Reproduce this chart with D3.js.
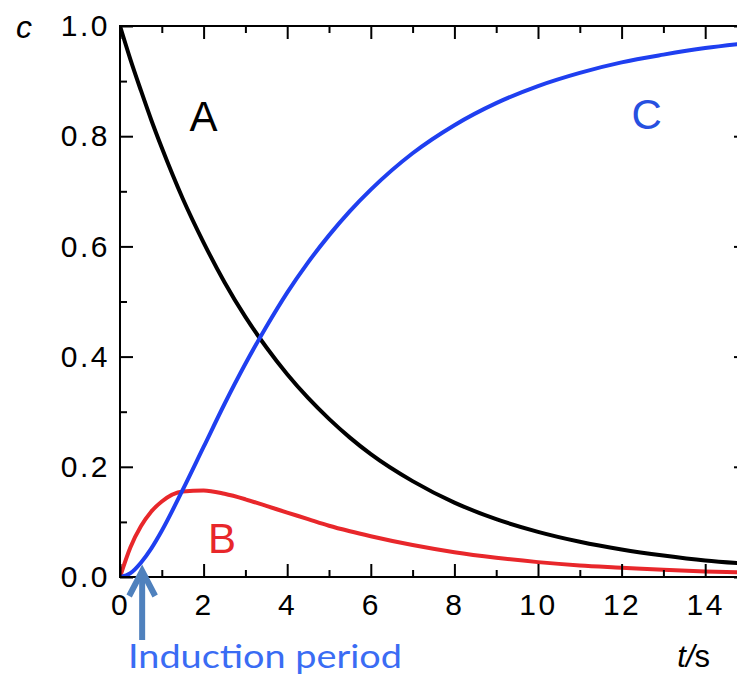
<!DOCTYPE html>
<html><head><meta charset="utf-8">
<script src="https://cdn.jsdelivr.net/npm/d3@7/dist/d3.min.js"></script>
<style>body{margin:0;background:#fff}svg{display:block}</style>
</head><body><svg id="chart" width="737" height="676"></svg>
<script>
// time points (s)
const times = [0,0.25,0.5,0.75,1,1.5,2,2.5,3,3.5,4,4.5,5,5.5,6,7,8,9,10,11,12,13,14,15];
// concentrations
const seriesA = [1,0.939,0.883,0.829,0.779,0.687,0.607,0.535,0.472,0.417,0.368,0.325,0.287,0.253,0.223,0.174,0.135,0.105,0.082,0.064,0.050,0.039,0.030,0.024];
const seriesB = [0,0.054,0.092,0.119,0.137,0.155,0.157,0.151,0.141,0.129,0.117,0.105,0.093,0.083,0.074,0.058,0.045,0.035,0.027,0.021,0.017,0.013,0.010,0.008];
const seriesC = [0,0.007,0.026,0.052,0.084,0.158,0.236,0.314,0.387,0.454,0.516,0.571,0.620,0.664,0.703,0.769,0.820,0.860,0.891,0.915,0.934,0.948,0.960,0.969];
const xMajor = [0,2,4,6,8,10,12,14];
const xMinor = [1,3,5,7,9,11,13,15];
const yMajor = [0,0.2,0.4,0.6,0.8,1.0];
const yMinor = [0.1,0.3,0.5,0.7,0.9];

const svg = d3.select("#chart");
svg.append("rect").attr("width",737).attr("height",676).attr("fill","#fff");
const x = d3.scaleLinear().domain([0,15]).range([120,747]);
const y = d3.scaleLinear().domain([0,1]).range([577,26]);
const FONT = "'Liberation Sans', Arial, Helvetica, sans-serif";

svg.append("defs").append("clipPath").attr("id","clip")
  .append("rect").attr("x",120).attr("y",26).attr("width",627).attr("height",551);

// curves
const line = d3.line().x((d,i)=>x(times[i])).y(d=>y(d)).curve(d3.curveMonotoneX);
const g = svg.append("g").attr("clip-path","url(#clip)");
[[seriesA,"#000000"],[seriesB,"#e8272b"],[seriesC,"#1f3ff0"]].forEach(([s,c])=>{
  g.append("path").attr("d",line(s)).attr("fill","none").attr("stroke",c)
   .attr("stroke-width",4).attr("stroke-linejoin","round");
});

// axes
function styleAxis(sel){
  sel.select(".domain").remove();
  sel.selectAll(".tick line").attr("stroke","#000").attr("stroke-width",2);
  sel.selectAll("text").attr("fill","#000").attr("font-family",FONT).attr("font-size",30).attr("letter-spacing",2.5);
}
svg.append("g").attr("transform","translate(0,577)")
  .call(d3.axisBottom(x).tickValues(xMajor).tickFormat(d3.format("d")).tickSizeInner(-13).tickSizeOuter(0).tickPadding(17))
  .call(styleAxis);
svg.append("g").attr("transform","translate(0,577)")
  .call(d3.axisBottom(x).tickValues(xMinor).tickFormat("").tickSizeInner(-7).tickSizeOuter(0)).call(styleAxis);
svg.append("g").attr("transform","translate(0,26)")
  .call(d3.axisTop(x).tickValues(xMajor).tickFormat("").tickSizeInner(-13).tickSizeOuter(0)).call(styleAxis);
svg.append("g").attr("transform","translate(0,26)")
  .call(d3.axisTop(x).tickValues(xMinor).tickFormat("").tickSizeInner(-7).tickSizeOuter(0)).call(styleAxis);
svg.append("g").attr("transform","translate(120,0)")
  .call(d3.axisLeft(y).tickValues(yMajor).tickFormat(d3.format(".1f")).tickSizeInner(-13).tickSizeOuter(0).tickPadding(10))
  .call(styleAxis);
svg.append("g").attr("transform","translate(120,0)")
  .call(d3.axisLeft(y).tickValues(yMinor).tickFormat("").tickSizeInner(-7).tickSizeOuter(0)).call(styleAxis);
svg.append("g").attr("transform","translate(747,0)")
  .call(d3.axisRight(y).tickValues(yMajor).tickFormat("").tickSizeInner(-13).tickSizeOuter(0)).call(styleAxis);
svg.append("g").attr("transform","translate(747,0)")
  .call(d3.axisRight(y).tickValues(yMinor).tickFormat("").tickSizeInner(-7).tickSizeOuter(0)).call(styleAxis);

// frame
svg.append("rect").attr("x",x(0)).attr("y",y(1)).attr("width",x(15)-x(0)).attr("height",y(0)-y(1))
  .attr("fill","none").attr("stroke","#000").attr("stroke-width",2);

// axis titles
svg.append("text").attr("x",16).attr("y",38).attr("font-family",FONT).attr("font-size",32)
  .attr("font-style","italic").attr("fill","#000").text("c");
const ts = svg.append("text").attr("x",710).attr("y",667).attr("text-anchor","end")
  .attr("font-family",FONT).attr("font-size",31).attr("fill","#000");
ts.append("tspan").attr("font-style","italic").text("t/");
ts.append("tspan").text("s");

// series labels
svg.append("text").attr("x",x(2.0)).attr("y",y(0.81)).attr("text-anchor","middle")
  .attr("font-family",FONT).attr("font-size",42).attr("fill","#000").text("A");
svg.append("text").attr("x",x(2.44)).attr("y",y(0.043)).attr("text-anchor","middle")
  .attr("font-family",FONT).attr("font-size",42).attr("fill","#e8272b").text("B");
svg.append("text").attr("x",x(12.6)).attr("y",y(0.813)).attr("text-anchor","middle")
  .attr("font-family",FONT).attr("font-size",42).attr("fill","#2650e0").text("C");

// induction period annotation
const ax = x(0.53);
svg.append("line").attr("x1",ax).attr("x2",ax).attr("y1",574).attr("y2",640)
  .attr("stroke","#4f81bd").attr("stroke-width",6);
svg.append("polyline").attr("points",`${ax-13},596 ${ax},571 ${ax+13},596`)
  .attr("fill","none").attr("stroke","#4f81bd").attr("stroke-width",6).attr("stroke-linejoin","miter");
svg.append("text").attr("x",128).attr("y",668).attr("font-family","Lato, 'Open Sans', sans-serif")
  .attr("font-size",33).attr("fill","#3a6cf4").attr("textLength",274).attr("lengthAdjust","spacingAndGlyphs")
  .text("Induction period");
</script></body></html>
